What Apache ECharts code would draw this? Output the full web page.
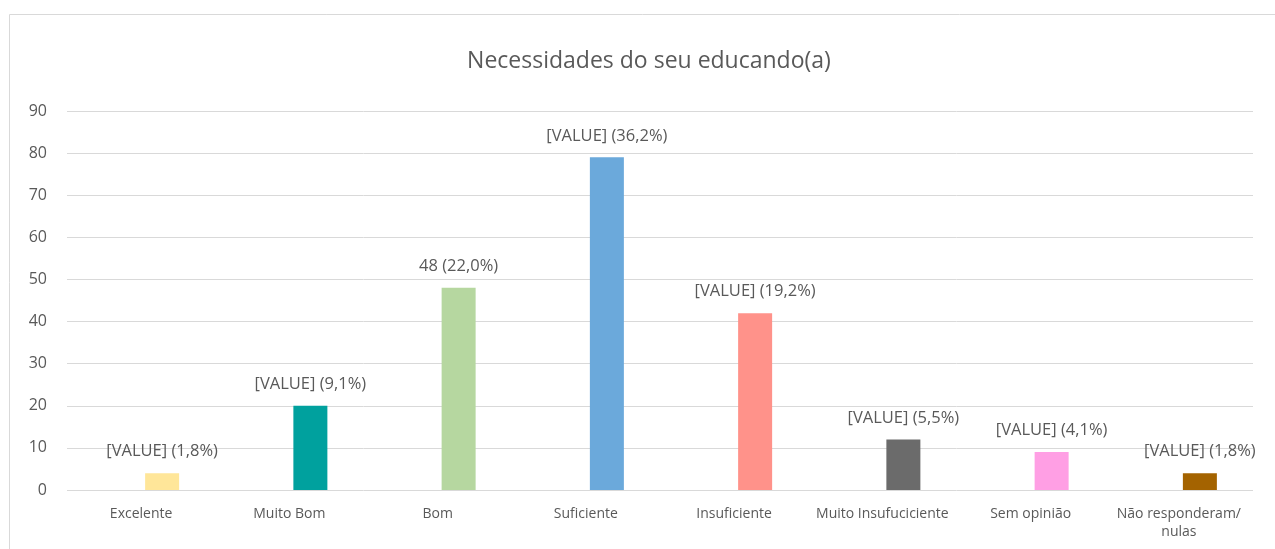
<!DOCTYPE html>
<html>
<head>
<meta charset="utf-8">
<script src="https://cdn.jsdelivr.net/npm/echarts@6/dist/echarts.min.js"></script>
<style>
  html, body { margin: 0; padding: 0; background: #fff; }
  #chart { width: 1275px; height: 549px; }
</style>
</head>
<body>
<div id="chart"></div>
<script>
// dados
const categories = [`Excelente`, `Muito Bom`, `Bom`, `Suficiente`, `Insuficiente`, `Muito Insufuciciente`, `Sem opinião`, `Não responderam/\nnulas`];
const values = [4, 20, 48, 79, 42, 12, 9, 4];
const valueLabels = [`[VALUE] (1,8%)`, `[VALUE] (9,1%)`, `48 (22,0%)`, `[VALUE] (36,2%)`, `[VALUE] (19,2%)`, `[VALUE] (5,5%)`, `[VALUE] (4,1%)`, `[VALUE] (1,8%)`];
const yTicks = [0, 10, 20, 30, 40, 50, 60, 70, 80, 90];

const barColors = [`#FFE699`, `#00A19E`, `#B6D7A0`, `#6BA9DB`, `#FF928A`, `#6B6B6B`, `#FF9FE4`, `#A46300`];
const fontFamily = `"Open Sans", "Noto Sans", sans-serif`;
const textColor = `#595959`;

const chart = echarts.init(document.getElementById(`chart`));

const option = {
  animation: false,
  title: {
    text: `Necessidades do seu educando(a)`,
    left: 644,
    top: 45,
    textAlign: `center`,
    textStyle: { fontFamily: fontFamily, fontSize: 23, fontWeight: `normal`, color: textColor }
  },
  graphic: [{
    type: `rect`,
    shape: { x: 9.5, y: 14.5, width: 1300, height: 600 },
    style: { fill: `none`, stroke: `#d9d9d9`, lineWidth: 1 },
    silent: true
  }],
  grid: [
    // gridlines, y labels, category labels
    { left: 67, right: 22, top: 111, bottom: 59 },
    // bars (shifted right like the original)
    { left: 88, right: 1, top: 111, bottom: 59 }
  ],
  xAxis: [
    {
      type: `category`,
      gridIndex: 0,
      data: categories,
      axisLine: { show: false },
      axisTick: { show: false },
      axisLabel: { color: textColor, fontFamily: fontFamily, fontSize: 14, margin: 15, lineHeight: 18, interval: 0 }
    },
    { type: `category`, gridIndex: 1, data: categories, show: false }
  ],
  yAxis: [
    {
      type: `value`,
      gridIndex: 0,
      min: yTicks[0],
      max: yTicks[yTicks.length - 1],
      interval: 10,
      axisLine: { show: false },
      axisTick: { show: false },
      axisLabel: { color: textColor, fontFamily: fontFamily, fontSize: 16, margin: 20 },
      splitLine: { lineStyle: { color: `#d9d9d9`, width: 1 } }
    },
    {
      type: `value`,
      gridIndex: 1,
      min: yTicks[0],
      max: yTicks[yTicks.length - 1],
      interval: 10,
      show: false
    }
  ],
  series: [
    {
      type: `bar`,
      xAxisIndex: 1,
      yAxisIndex: 1,
      barWidth: 34,
      data: values.map((v, i) => ({ value: v, itemStyle: { color: barColors[i] } })),
      label: {
        show: true,
        position: `top`,
        distance: 13,
        color: textColor,
        fontFamily: fontFamily,
        fontSize: 16.5,
        formatter: p => valueLabels[p.dataIndex]
      }
    }
  ]
};
option && chart.setOption(option);
</script>
</body>
</html>
